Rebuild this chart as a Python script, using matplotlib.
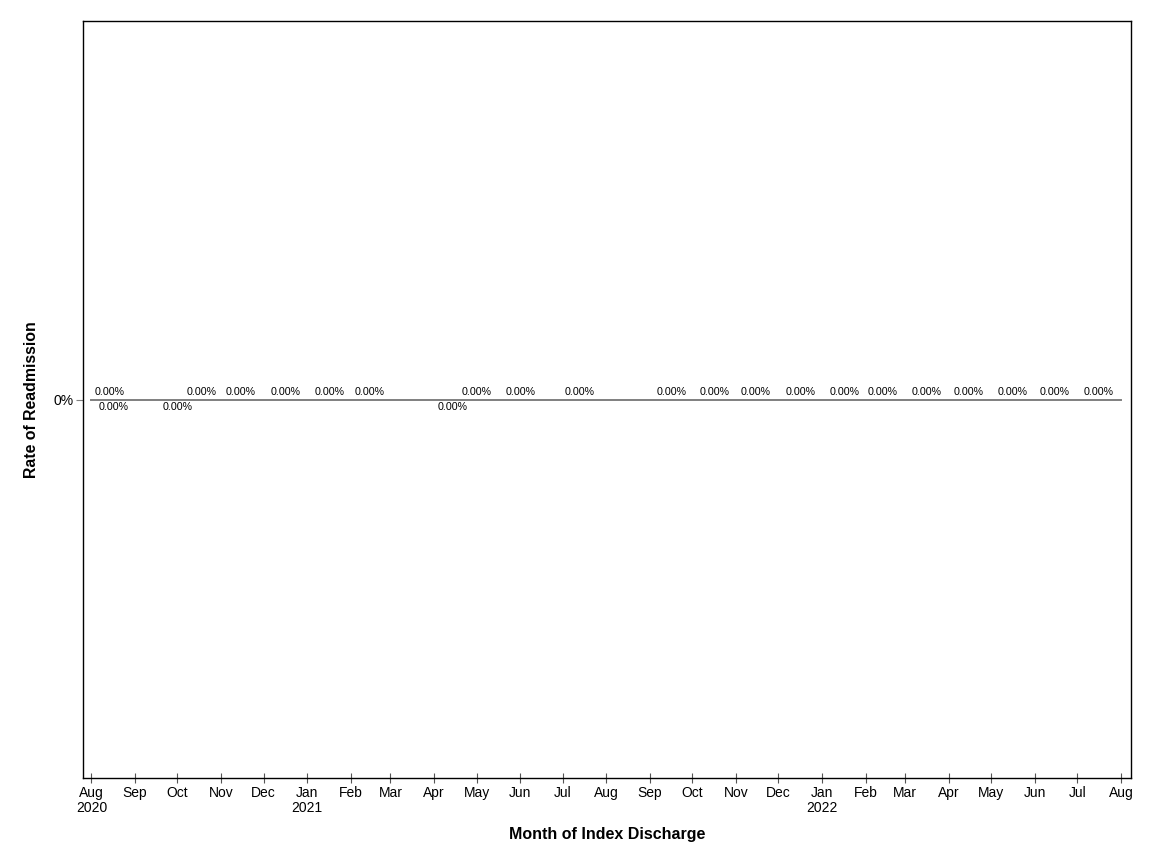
import matplotlib
matplotlib.use('Agg')

import numpy as np
import pandas as pd
import matplotlib.pyplot as plt
import matplotlib.dates as mdates

plt.rcParams['font.family'] = ['Liberation Sans', 'DejaVu Sans']

# data: discharge dates with readmission rate (all 0%)
above_dates = ['2020-08-14', '2020-10-18', '2020-11-15', '2020-12-17', '2021-01-17',
               '2021-02-14', '2021-05-01', '2021-06-01', '2021-07-13', '2021-09-16',
               '2021-10-17', '2021-11-15', '2021-12-17', '2022-01-17', '2022-02-13',
               '2022-03-16', '2022-04-15', '2022-05-16', '2022-06-15', '2022-07-16']
above_rates = [0.0] * len(above_dates)
below_dates = ['2020-08-17', '2020-10-01', '2021-04-14']
below_rates = [0.0, 0.0, 0.0]

line_start = '2020-08-01'
line_end = '2022-08-01'
x_min = '2020-07-26'
x_max = '2022-08-08'

above_dates = pd.to_datetime(above_dates)
below_dates = pd.to_datetime(below_dates)

fig = plt.figure(figsize=(11.52, 8.64), dpi=100)
ax = fig.add_axes([0.072, 0.0995, 0.9098, 0.8762])

ax.plot(pd.to_datetime([line_start, line_end]), [0, 0], color='#7f7f7f', lw=1.4)

for d, v in zip(above_dates, above_rates):
    ax.annotate(f"{v:.2f}%", (d, v), xytext=(0, 2), textcoords='offset points',
                ha='center', va='bottom', fontsize=7.7)
for d, v in zip(below_dates, below_rates):
    ax.annotate(f"{v:.2f}%", (d, v), xytext=(0, -2), textcoords='offset points',
                ha='center', va='top', fontsize=7.7)

ax.set_xlim(pd.Timestamp(x_min), pd.Timestamp(x_max))
ax.set_ylim(-1, 1)
ax.set_yticks([0])
ax.set_yticklabels(['0%'])

ticks = pd.date_range('2020-08-01', '2022-08-01', freq='MS')
labels = []
for t in ticks:
    if t == ticks[0] or t.month == 1:
        labels.append(f"{t.strftime('%b')}\n{t.year}")
    else:
        labels.append(t.strftime('%b'))
ax.set_xticks(ticks)
ax.set_xticklabels(labels, fontsize=10, linespacing=1.15)
ax.tick_params(axis='x', direction='inout', length=7, color='#555555', pad=2)
ax.tick_params(axis='y', direction='out', length=5, color='#7f7f7f', labelsize=10, pad=2)

ax.set_xlabel("Month of Index Discharge", fontsize=11.5, fontweight='bold', labelpad=8.5)
ax.set_ylabel("Rate of Readmission", fontsize=11.4, fontweight='bold', labelpad=10)

for s in ax.spines.values():
    s.set_linewidth(1.0)

plt.savefig("out.png", dpi=100)
plt.close()
